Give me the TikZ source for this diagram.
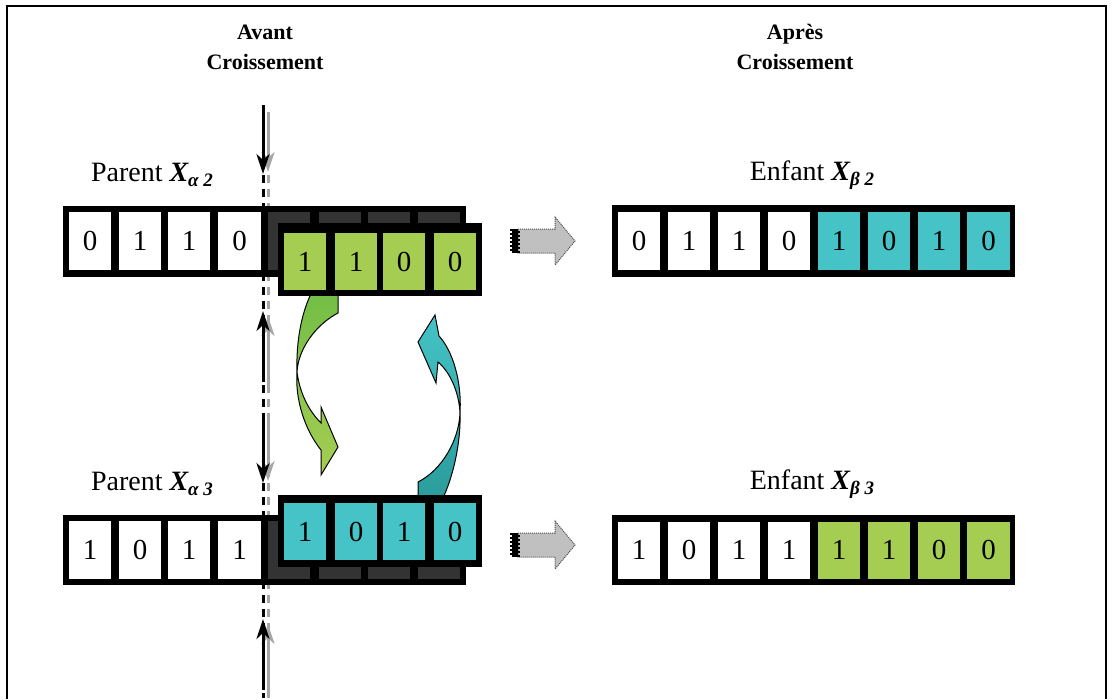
\documentclass[tikz,border=0pt]{standalone}
\usepackage{fontspec}
\setmainfont{Liberation Serif}
\usetikzlibrary{arrows.meta}
\definecolor{cgreen}{HTML}{A5CD52}
\definecolor{cgreendark}{HTML}{72BE45}
\definecolor{cteal}{HTML}{45C3C7}
\definecolor{ctealdark}{HTML}{2A9C9B}
\definecolor{cdark}{HTML}{333333}
\definecolor{cgreyarrow}{HTML}{C0C0C0}
\begin{document}
\begin{tikzpicture}[x=1pt,y=-1pt,
  frame/.style={fill=black,draw=none,inner sep=0pt},
  cell/.style={draw=none,inner sep=0pt,minimum width=42.5pt,minimum height=58pt,font=\fontsize{29}{29}\selectfont},
  wcell/.style={cell,fill=white},
  gcell/.style={cell,fill=cgreen,minimum height=57pt},
  tcell/.style={cell,fill=cteal,minimum height=57pt},
  dcell/.style={cell,fill=cdark},
  title/.style={font=\fontsize{22}{30}\selectfont\bfseries,align=center},
  lbl/.style={font=\fontsize{28}{30}\selectfont},
  cutarrow/.style={line width=3pt,-{Stealth[length=20pt,width=13pt,inset=6pt]}},
  cutarrowg/.style={line width=3pt,gray!70,-{Stealth[length=20pt,width=13pt,inset=6pt]}},
  blockarrow/.style={fill=cgreyarrow,draw=gray!60!black,densely dotted,line width=1pt}
]
\useasboundingbox (0,0) rectangle (1113,699);
% border
\draw[line width=2pt] (7,699) -- (7,6) -- (1106,6) -- (1106,699);

% titles
\node[title] (t1) at (265,47) {Avant\\Croissement};
\node[title] (t2) at (795,47) {Après\\Croissement};

% cut line
\coordinate (cb) at (263,175);
\coordinate (ce) at (263,698);
\coordinate (gb) at (268,175);
\coordinate (ge) at (268,698);
\draw[gray!70,line width=3pt,dash pattern=on 8pt off 6pt] (gb) -- (ge);
\draw[black,line width=3pt,dash pattern=on 8pt off 6pt] (cb) -- (ce);

% cut arrows
\coordinate (a1s) at (263,105); \coordinate (a1e) at (263,174);
\coordinate (g1s) at (268,112); \coordinate (g1e) at (268,172);
\draw[cutarrowg] (g1s) -- (g1e);
\draw[cutarrow] (a1s) -- (a1e);
\coordinate (a2s) at (263,382); \coordinate (a2e) at (263,311);
\coordinate (g2s) at (268,386); \coordinate (g2e) at (268,316);
\draw[cutarrowg] (g2s) -- (g2e);
\draw[cutarrow] (a2s) -- (a2e);
\coordinate (a3s) at (263,414); \coordinate (a3e) at (263,483);
\coordinate (g3s) at (268,420); \coordinate (g3e) at (268,481);
\draw[cutarrowg] (g3s) -- (g3e);
\draw[cutarrow] (a3s) -- (a3e);
\coordinate (a4s) at (263,690); \coordinate (a4e) at (263,619);
\coordinate (g4s) at (268,694); \coordinate (g4e) at (268,624);
\draw[cutarrowg] (g4s) -- (g4e);
\draw[cutarrow] (a4s) -- (a4e);

% labels
\node[lbl] (p2) at (152,175) {Parent {\bfseries\itshape X\raisebox{-0.35ex}{\fontsize{19}{20}\selectfont α 2}}};
\node[lbl] (p3) at (152,484) {Parent {\bfseries\itshape X\raisebox{-0.35ex}{\fontsize{19}{20}\selectfont α 3}}};
\node[lbl] (e2) at (812,175) {Enfant {\bfseries\itshape X\raisebox{-0.35ex}{\fontsize{19}{20}\selectfont β 2}}};
\node[lbl] (e3) at (812,484) {Enfant {\bfseries\itshape X\raisebox{-0.35ex}{\fontsize{19}{20}\selectfont β 3}}};

% curved arrows
\shade[top color=cgreendark,bottom color=cgreen,draw=black,line width=1pt]
 (313,290) -- (338,290) -- (338,313) .. controls (315,325) and (298,350) .. (297,372)
 .. controls (300,395) and (310,412) .. (321,423) -- (321,407) -- (338,447) -- (321,475) -- (321,450)
 .. controls (305,430) and (295,400) .. (297,372) .. controls (296,340) and (302,310) .. (313,290) -- cycle;
\shade[top color=cteal,bottom color=ctealdark,draw=black,line width=1pt]
 (418,500) -- (418,482) .. controls (442,470) and (459,440) .. (460,413)
 .. controls (459,392) and (450,372) .. (438,362) -- (436,383) -- (418,342) -- (435,315) -- (439,336)
 .. controls (452,350) and (462,380) .. (460,413) .. controls (461,445) and (452,480) .. (442,500) -- cycle;

% parent alpha 2
\node[frame,minimum width=403pt,minimum height=71pt] (f1) at (264.5,241.5) {};
\node[wcell] (p2c1) at (90,241) {0};
\node[wcell] (p2c2) at (140,241) {1};
\node[wcell] (p2c3) at (189,241) {1};
\node[wcell] (p2c4) at (239.5,241) {0};
\node[dcell] (p2d1) at (289,241) {};
\node[dcell] (p2d2) at (340,241) {};
\node[dcell] (p2d3) at (389,241) {};
\node[dcell] (p2d4) at (439,241) {};
\node[frame,minimum width=204pt,minimum height=73pt] (f1g) at (380,259.5) {};
\node[gcell] (p2g1) at (305,261.5) {1};
\node[gcell] (p2g2) at (356,261.5) {1};
\node[gcell] (p2g3) at (404,261.5) {0};
\node[gcell] (p2g4) at (455,261.5) {0};

% parent alpha 3
\node[frame,minimum width=403pt,minimum height=70pt] (f2) at (264.5,550) {};
\node[wcell] (p3c1) at (90,550) {1};
\node[wcell] (p3c2) at (140,550) {0};
\node[wcell] (p3c3) at (189,550) {1};
\node[wcell] (p3c4) at (239.5,550) {1};
\node[dcell] (p3d1) at (289,550) {};
\node[dcell] (p3d2) at (340,550) {};
\node[dcell] (p3d3) at (389,550) {};
\node[dcell] (p3d4) at (439,550) {};
\node[frame,minimum width=204pt,minimum height=72pt] (f2t) at (380,531) {};
\node[tcell] (p3t1) at (305,531.5) {1};
\node[tcell] (p3t2) at (356,531.5) {0};
\node[tcell] (p3t3) at (404,531.5) {1};
\node[tcell] (p3t4) at (455,531.5) {0};

% block arrows
\foreach \yy/\nm in {241/ba1,545/ba2}{
  \coordinate (\nm) at (510,\yy);
  \draw[blockarrow] (518,\yy-12) -- (555,\yy-12) -- (555,\yy-24) -- (575,\yy) -- (555,\yy+24) -- (555,\yy+12) -- (518,\yy+12) -- cycle;
  \foreach \i in {0,2,4,6}{
    \foreach \j in {0,4,...,20}{
      \fill[black] (510+\i,\yy-12+\j) rectangle +(2,2);
      \fill[black] (512+\i,\yy-10+\j) rectangle +(2,2);
    }
  }
}

% child beta 2
\node[frame,minimum width=403pt,minimum height=72pt] (f3) at (813.5,241) {};
\foreach \x/\v/\s [count=\k] in {639/0/wcell,689/1/wcell,739/1/wcell,789/0/wcell,839/1/tcell,889/0/tcell,939/1/tcell,988.5/0/tcell}{
  \node[\s,minimum height=58pt] (e2c\k) at (\x,241) {\v};
}
% child beta 3
\node[frame,minimum width=403pt,minimum height=70pt] (f4) at (813.5,550) {};
\foreach \x/\v/\s [count=\k] in {639/1/wcell,689/0/wcell,739/1/wcell,789/1/wcell,839/1/gcell,889/1/gcell,939/0/gcell,988.5/0/gcell}{
  \node[\s,minimum height=57pt] (e3c\k) at (\x,550) {\v};
}
\end{tikzpicture}
\end{document}
